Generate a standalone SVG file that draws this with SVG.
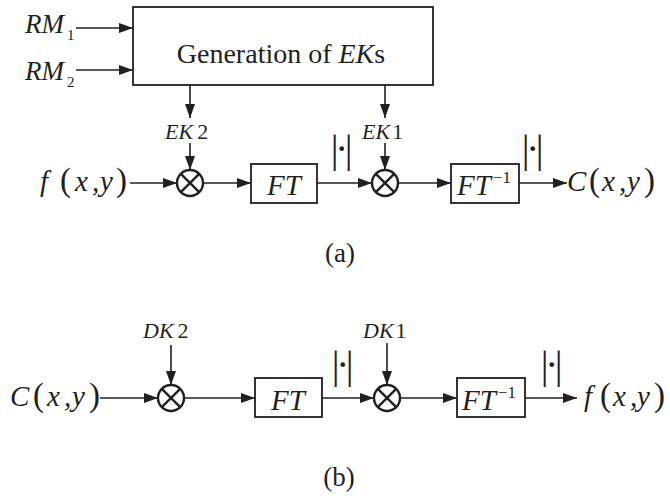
<svg xmlns="http://www.w3.org/2000/svg" width="670" height="499" viewBox="0 0 670 499">
<defs>
<marker id="ah" markerWidth="14" markerHeight="10" refX="14" refY="5" orient="auto" markerUnits="userSpaceOnUse"><path d="M0,0 L14,5 L0,10 z" fill="#231f20"/></marker>
<style>
text{fill:#231f20;font-family:'Liberation Serif','Times New Roman',serif}
.it{font-style:italic}
.box{fill:#fff;stroke:#231f20;stroke-width:1.8}
.mul{fill:#fff;stroke:#231f20;stroke-width:2.4}
.x{stroke:#231f20;stroke-width:2.4}
.ln{stroke:#231f20;stroke-width:1.6;fill:none;marker-end:url(#ah)}
.big{font-size:29px}
.par{font-size:33px;font-style:normal}
.lab{font-size:22px}
.bar{font-size:39px;letter-spacing:-3.4px}
</style>
</defs>
<rect width="670" height="499" fill="#fff"/>

<g id="connectors">
<line class="ln" x1="76" y1="28" x2="133" y2="28"/>
<line class="ln" x1="76" y1="70" x2="133" y2="70"/>
<line class="ln" x1="190" y1="85" x2="190" y2="118"/>
<line class="ln" x1="385" y1="85" x2="385" y2="118"/>
<line class="ln" x1="190" y1="143" x2="190" y2="170"/>
<line class="ln" x1="385" y1="143" x2="385" y2="170"/>
<line class="ln" x1="130" y1="183" x2="177" y2="183"/>
<line class="ln" x1="203" y1="183" x2="251" y2="183"/>
<line class="ln" x1="317" y1="183" x2="372" y2="183"/>
<line class="ln" x1="398" y1="183" x2="451" y2="183"/>
<line class="ln" x1="519" y1="183" x2="567" y2="183"/>
<line class="ln" x1="171" y1="345" x2="171" y2="385"/>
<line class="ln" x1="387" y1="343" x2="387" y2="385"/>
<line class="ln" x1="100" y1="398" x2="158" y2="398"/>
<line class="ln" x1="184" y1="398" x2="255" y2="398"/>
<line class="ln" x1="322" y1="398" x2="374" y2="398"/>
<line class="ln" x1="400" y1="398" x2="457" y2="398"/>
<line class="ln" x1="525" y1="398" x2="577" y2="398"/>
</g>

<g id="rm1"><text x="25" y="33" font-size="27" class="it">RM</text><text x="67" y="40" font-size="15">1</text></g>
<g id="rm2"><text x="25" y="80" font-size="27" class="it">RM</text><text x="67" y="87" font-size="15">2</text></g>

<g id="gen">
<rect class="box" x="133" y="7" width="300" height="78"/>
<text x="281" y="63" font-size="28" text-anchor="middle">Generation of <tspan class="it">EK</tspan>s</text>
</g>

<g id="ek2"><text x="165" y="139" class="lab"><tspan class="it">EK</tspan><tspan dx="4">2</tspan></text></g>
<g id="ek1"><text x="362" y="139" class="lab"><tspan class="it">EK</tspan><tspan dx="2">1</tspan></text></g>

<g id="fxy-a"><text y="191" class="big it"><tspan x="40">f</tspan><tspan x="60" class="par">(</tspan><tspan x="75">x</tspan><tspan x="92">,</tspan><tspan x="100">y</tspan><tspan x="116" class="par">)</tspan></text></g>

<g id="mul-a1"><circle class="mul" cx="190" cy="183" r="13"/><line class="x" x1="180.8" y1="173.8" x2="199.2" y2="192.2"/><line class="x" x1="180.8" y1="192.2" x2="199.2" y2="173.8"/></g>

<g id="ft-a"><rect class="box" x="251" y="164" width="66" height="39"/><text x="284" y="195" class="big it" text-anchor="middle">FT</text></g>

<g id="abs-a1"><text x="340" y="162" class="bar" text-anchor="middle">|·|</text></g>

<g id="mul-a2"><circle class="mul" cx="385" cy="183" r="13"/><line class="x" x1="375.8" y1="173.8" x2="394.2" y2="192.2"/><line class="x" x1="375.8" y1="192.2" x2="394.2" y2="173.8"/></g>

<g id="ift-a"><rect class="box" x="451" y="164" width="68" height="39"/><text x="457" y="195" class="big it">FT<tspan dx="2" dy="-12" font-size="17" font-style="normal">−1</tspan></text></g>

<g id="abs-a2"><text x="531" y="162" class="bar" text-anchor="middle">|·|</text></g>

<g id="cxy-a"><text y="191" class="big it"><tspan x="567">C</tspan><tspan x="589" class="par">(</tspan><tspan x="602">x</tspan><tspan x="619">,</tspan><tspan x="627">y</tspan><tspan x="644" class="par">)</tspan></text></g>

<g id="cap-a"><text x="340" y="262" font-size="27" text-anchor="middle">(a)</text></g>

<g id="dk2"><text x="143" y="338" class="lab"><tspan class="it">DK</tspan><tspan dx="4">2</tspan></text></g>
<g id="dk1"><text x="363" y="338" class="lab"><tspan class="it">DK</tspan><tspan dx="2">1</tspan></text></g>

<g id="cxy-b"><text y="406" class="big it"><tspan x="10">C</tspan><tspan x="33" class="par">(</tspan><tspan x="47">x</tspan><tspan x="64">,</tspan><tspan x="72">y</tspan><tspan x="89" class="par">)</tspan></text></g>

<g id="mul-b1"><circle class="mul" cx="171" cy="398" r="13"/><line class="x" x1="161.8" y1="388.8" x2="180.2" y2="407.2"/><line class="x" x1="161.8" y1="407.2" x2="180.2" y2="388.8"/></g>

<g id="ft-b"><rect class="box" x="255" y="378" width="67" height="39"/><text x="288" y="410" class="big it" text-anchor="middle">FT</text></g>

<g id="abs-b1"><text x="341" y="378" class="bar" text-anchor="middle">|·|</text></g>

<g id="mul-b2"><circle class="mul" cx="387" cy="398" r="13"/><line class="x" x1="377.8" y1="388.8" x2="396.2" y2="407.2"/><line class="x" x1="377.8" y1="407.2" x2="396.2" y2="388.8"/></g>

<g id="ift-b"><rect class="box" x="457" y="378" width="68" height="39"/><text x="462" y="410" class="big it">FT<tspan dx="2" dy="-12" font-size="17" font-style="normal">−1</tspan></text></g>

<g id="abs-b2"><text x="550" y="378" class="bar" text-anchor="middle">|·|</text></g>

<g id="fxy-b"><text y="406" class="big it"><tspan x="584">f</tspan><tspan x="600" class="par">(</tspan><tspan x="613">x</tspan><tspan x="630">,</tspan><tspan x="637">y</tspan><tspan x="654" class="par">)</tspan></text></g>

<g id="cap-b"><text x="339" y="486" font-size="27" text-anchor="middle">(b)</text></g>
</svg>
